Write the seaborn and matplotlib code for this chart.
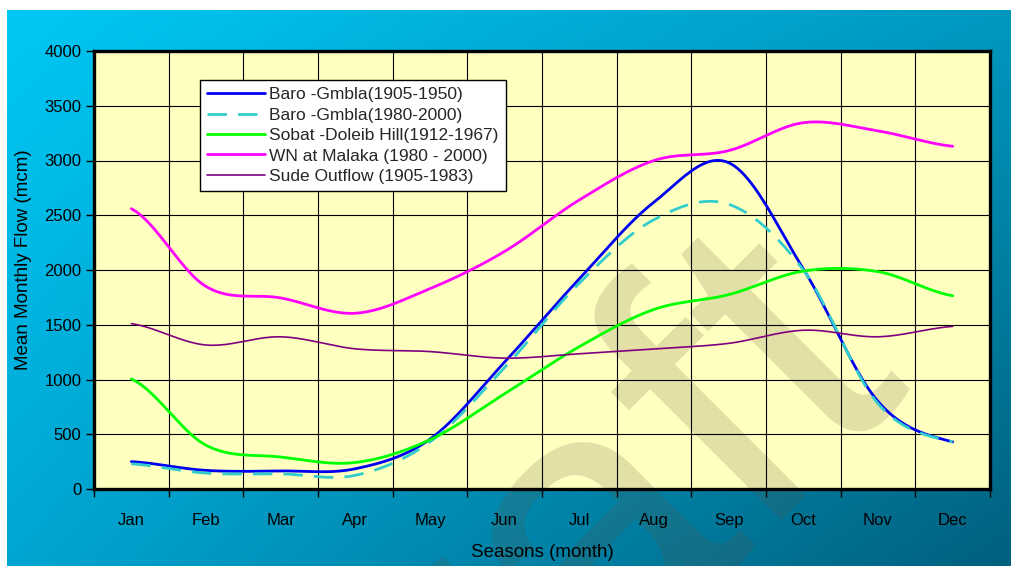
import numpy as np
import matplotlib
matplotlib.use("Agg")
import matplotlib.pyplot as plt
import seaborn as sns

# Mean monthly flow (million cubic metres)
months = ["Jan", "Feb", "Mar", "Apr", "May", "Jun",
          "Jul", "Aug", "Sep", "Oct", "Nov", "Dec"]
baro_1905_1950 = [250, 170, 165, 185, 455, 1160, 1920, 2620, 2980, 2010, 800, 430]
baro_1980_2000 = [230, 145, 138, 125, 430, 1110, 1880, 2460, 2600, 2000, 780, 430]
sobat_doleib = [1005, 400, 292, 242, 450, 870, 1300, 1640, 1775, 1990, 1985, 1765]
wn_malaka = [2560, 1850, 1745, 1605, 1830, 2170, 2640, 3000, 3090, 3345, 3270, 3130]
sude_outflow = [1510, 1315, 1390, 1280, 1255, 1195, 1235, 1280, 1330, 1450, 1390, 1485]

series_names = ["Baro -Gmbla(1905-1950)", "Baro -Gmbla(1980-2000)",
                "Sobat -Doleib Hill(1912-1967)", "WN at Malaka (1980 - 2000)",
                "Sude Outflow (1905-1983)"]


def smooth(values, steps=24):
    """Catmull-Rom curve through the monthly points (smoothed-line style)."""
    p = np.asarray(values, dtype=float)
    pts = np.concatenate([[p[0]], p, [p[-1]]])
    xs, ys = [], []
    t = np.linspace(0, 1, steps, endpoint=False)
    for i in range(len(p) - 1):
        p0, p1, p2, p3 = pts[i], pts[i + 1], pts[i + 2], pts[i + 3]
        y = 0.5 * ((2 * p1) + (-p0 + p2) * t + (2 * p0 - 5 * p1 + 4 * p2 - p3) * t ** 2
                   + (-p0 + 3 * p1 - 3 * p2 + p3) * t ** 3)
        xs.append(i + t)
        ys.append(y)
    xs.append([len(p) - 1])
    ys.append([p[-1]])
    return np.concatenate(xs), np.concatenate(ys)


sns.set_theme(style="white")
plt.rcParams["font.family"] = ["Liberation Sans", "DejaVu Sans"]

W, H = 1011, 566
fig = plt.figure(figsize=(W / 100, H / 100), dpi=100)
fig.patch.set_facecolor("white")

# gradient backdrop
bg = fig.add_axes([7 / W, 0, 1 - 7 / W, 1 - 10 / H])
bg.set_axis_off()
u = np.linspace(0, 1, 300)[None, :, None]
v = np.linspace(0, 1, 200)[:, None, None]
tl = np.array([0, 200, 245]) / 255
tr = np.array([0, 152, 192]) / 255
bl = np.array([0, 166, 210]) / 255
br = np.array([0, 96, 126]) / 255
grad = (1 - u) * (1 - v) * tl + u * (1 - v) * tr + (1 - u) * v * bl + u * v * br
bg.imshow(grad, aspect="auto", extent=[0, 1, 0, 1], origin="upper")
bg.set_xlim(0, 1)
bg.set_ylim(0, 1)

ax = fig.add_axes([94 / W, 1 - 489 / H, 896 / W, 438 / H])
ax.set_facecolor("#FFFFC0")

# watermark
ax.text(525 / W, 1 - 598 / H, "Draft", transform=fig.transFigure,
        fontsize=288, color=(100 / 255, 82 / 255, 60 / 255), alpha=0.19,
        rotation=45, rotation_mode="anchor", ha="center", va="center",
        clip_on=False, zorder=0.5)

styles = [
    dict(color="#0000F0", lw=2.0),
    dict(color="#33CCCC", lw=2.0),
    dict(color="#00FF00", lw=2.0),
    dict(color="#FF00FF", lw=2.0),
    dict(color="#800080", lw=1.2),
]
data = [baro_1905_1950, baro_1980_2000, sobat_doleib, wn_malaka, sude_outflow]
for name, vals, st in zip(series_names, data, styles):
    xs, ys = smooth(vals)
    sns.lineplot(x=xs, y=ys, ax=ax, sort=False, estimator=None,
                 label=name, color=st["color"], linewidth=st["lw"], zorder=3)
ax.lines[1].set_dashes([7, 4])

ax.set_xlim(-0.5, 11.5)
ax.set_ylim(0, 4000)
ax.set_xticks(np.arange(-0.5, 12, 1))
ax.set_xticklabels([])
ax.set_xticks(np.arange(12), minor=True)
ax.set_xticklabels(months, minor=True)
ax.set_yticks(np.arange(0, 4001, 500))
ax.set_yticklabels([str(v) for v in range(0, 4001, 500)])
ax.tick_params(axis="x", which="major", bottom=True, direction="out",
               length=6, width=1, color="black")
ax.tick_params(axis="x", which="minor", bottom=True, length=0, pad=17,
               labelsize=12, labelcolor="black")
ax.tick_params(axis="y", left=True, direction="out", length=6, width=1,
               color="black", pad=3, labelsize=12, labelcolor="black")
ax.grid(True, which="major", color="black", linewidth=0.8)
ax.set_axisbelow(True)
for s in ax.spines.values():
    s.set_visible(True)
    s.set_color("black")
    s.set_linewidth(2.4)
    s.set_zorder(4)

ax.set_xlabel("Seasons (month)", fontsize=13.5, color="black")
ax.xaxis.set_label_coords(0.5, (489 - 544) / 438)
ax.set_ylabel("Mean Monthly Flow (mcm)", fontsize=13.5, color="black")
ax.yaxis.set_label_coords((32 - 94) / 896, (489 - 260) / 438)

leg = ax.legend(loc="upper left", bbox_to_anchor=(200 / W, 1 - 80 / H),
                bbox_transform=fig.transFigure, fontsize=12.5, frameon=True,
                fancybox=False, shadow=False, framealpha=1, facecolor="white",
                edgecolor="black", handlelength=3.3, handletextpad=0.25,
                labelspacing=0.3, borderpad=0.42, borderaxespad=0)
leg.get_frame().set_linewidth(1.0)
leg.set_zorder(5)

fig.savefig("out.png", dpi=100)
